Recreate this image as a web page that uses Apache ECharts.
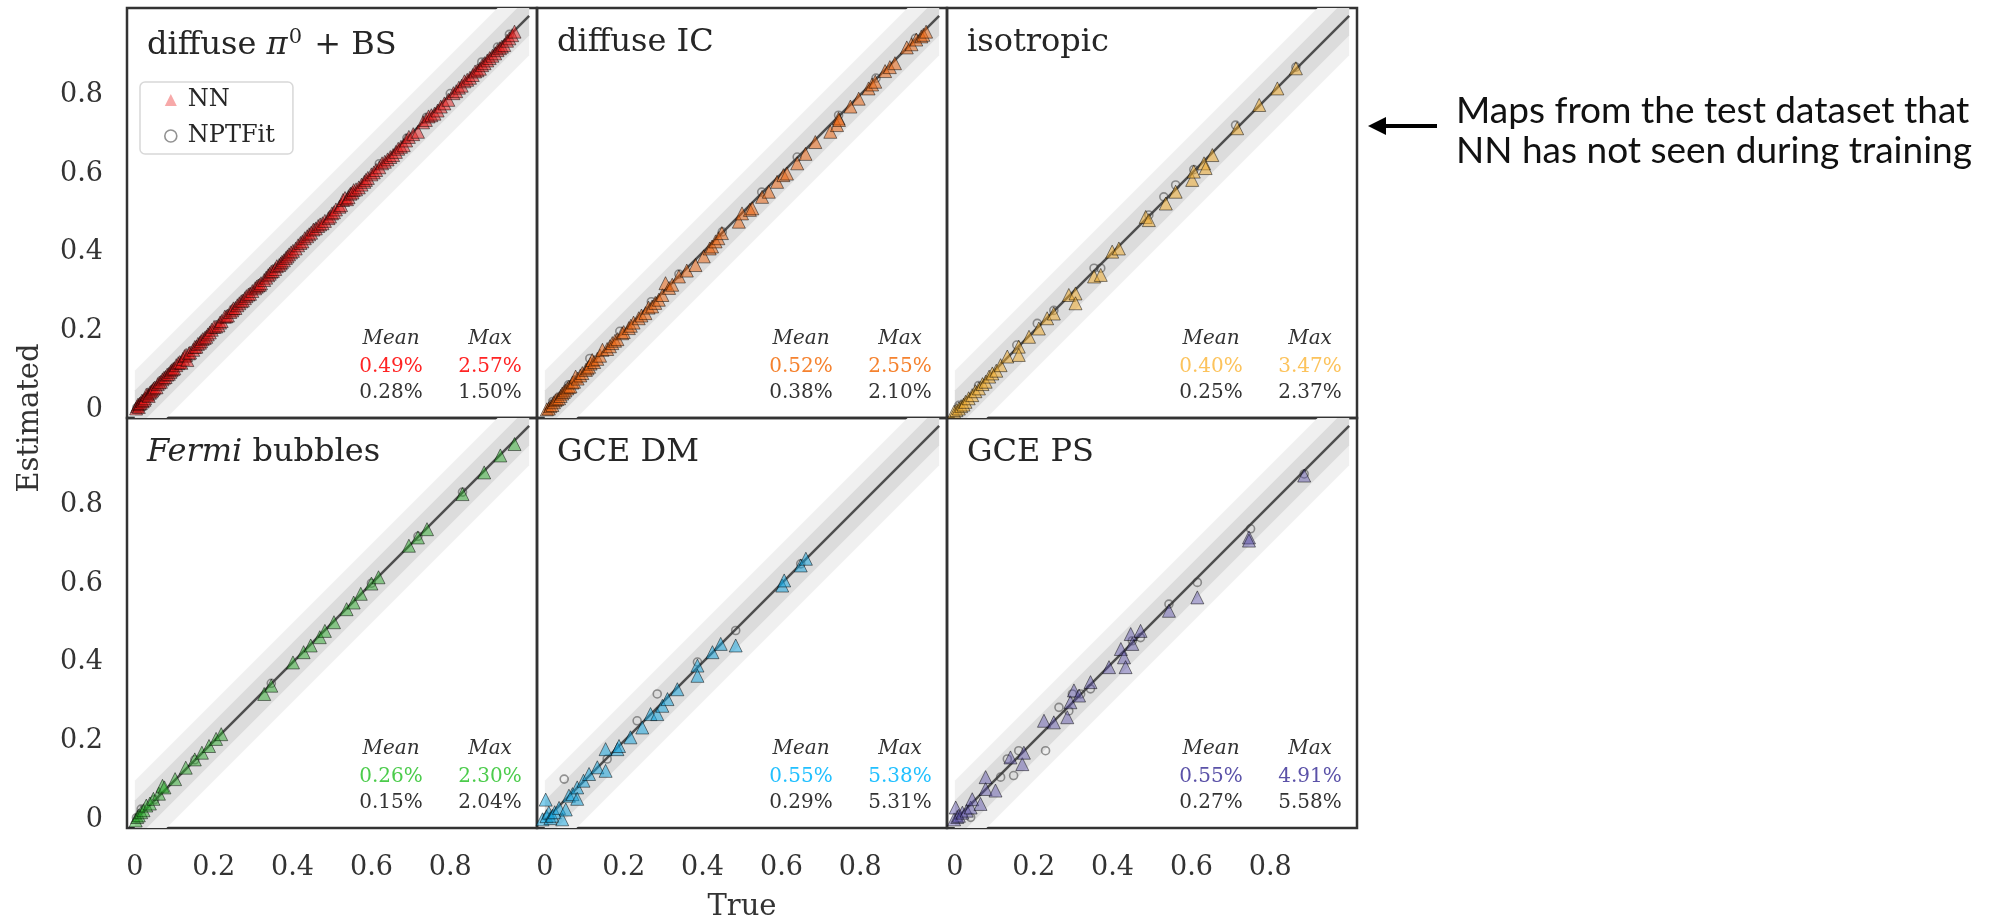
<!DOCTYPE html>
<html>
<head>
<meta charset="utf-8">
<title>NN vs NPTFit flux fractions</title>
<script src="https://cdn.jsdelivr.net/npm/echarts@6/dist/echarts.min.js"></script>
<style>
  html, body { margin: 0; padding: 0; background: #fff; }
  #chart { width: 1994px; height: 922px; }
</style>
</head>
<body>
<div id="chart"></div>
<script>
// ---- data (true, estimated) ----
const pionNN = [
  [0.003, 0.004], [0.006, 0.01], [0.008, 0.014], [0.01, 0.008], [0.012, 0.016], [0.015, 0.018],
  [0.018, 0.024], [0.02, 0.022], [0.024, 0.026], [0.026, 0.03], [0.029, 0.039], [0.033, 0.04],
  [0.035, 0.036], [0.038, 0.044], [0.041, 0.047], [0.044, 0.05], [0.047, 0.054], [0.05, 0.057],
  [0.055, 0.058], [0.058, 0.066], [0.062, 0.07], [0.066, 0.072], [0.07, 0.078], [0.074, 0.082],
  [0.078, 0.084], [0.082, 0.09], [0.086, 0.092], [0.09, 0.097], [0.093, 0.101], [0.097, 0.104],
  [0.1, 0.106], [0.105, 0.114], [0.11, 0.119], [0.114, 0.122], [0.118, 0.12], [0.122, 0.13],
  [0.126, 0.137], [0.13, 0.14], [0.133, 0.127], [0.137, 0.144], [0.14, 0.146], [0.148, 0.153],
  [0.152, 0.16], [0.156, 0.161], [0.16, 0.168], [0.165, 0.171], [0.168, 0.175], [0.172, 0.18],
  [0.177, 0.183], [0.181, 0.186], [0.185, 0.192], [0.19, 0.197], [0.195, 0.204], [0.201, 0.211],
  [0.206, 0.212], [0.212, 0.215], [0.216, 0.222], [0.22, 0.226], [0.228, 0.237], [0.232, 0.238],
  [0.236, 0.24], [0.242, 0.249], [0.247, 0.253], [0.25, 0.258], [0.255, 0.259], [0.26, 0.266],
  [0.265, 0.271], [0.27, 0.276], [0.274, 0.278], [0.279, 0.284], [0.283, 0.289], [0.288, 0.293],
  [0.292, 0.295], [0.298, 0.302], [0.305, 0.309], [0.309, 0.313], [0.313, 0.316], [0.317, 0.318],
  [0.32, 0.322], [0.328, 0.33], [0.333, 0.336], [0.338, 0.342], [0.342, 0.346], [0.346, 0.351],
  [0.35, 0.353], [0.356, 0.358], [0.36, 0.365], [0.366, 0.368], [0.37, 0.372], [0.373, 0.376],
  [0.378, 0.38], [0.383, 0.386], [0.387, 0.39], [0.391, 0.395], [0.396, 0.4], [0.401, 0.404],
  [0.408, 0.41], [0.414, 0.418], [0.42, 0.424], [0.425, 0.428], [0.431, 0.436], [0.437, 0.441],
  [0.442, 0.446], [0.447, 0.45], [0.453, 0.458], [0.459, 0.461], [0.465, 0.467], [0.47, 0.471],
  [0.476, 0.474], [0.482, 0.48], [0.491, 0.487], [0.495, 0.491], [0.5, 0.499], [0.505, 0.502],
  [0.51, 0.509], [0.519, 0.516], [0.523, 0.52], [0.528, 0.533], [0.533, 0.538], [0.538, 0.535],
  [0.542, 0.54], [0.547, 0.549], [0.552, 0.552], [0.555, 0.558], [0.561, 0.56], [0.568, 0.565],
  [0.575, 0.572], [0.582, 0.579], [0.586, 0.584], [0.591, 0.589], [0.6, 0.598], [0.606, 0.603],
  [0.612, 0.609], [0.62, 0.616], [0.627, 0.626], [0.634, 0.63], [0.641, 0.636], [0.648, 0.642],
  [0.655, 0.647], [0.662, 0.655], [0.668, 0.663], [0.675, 0.668], [0.682, 0.672], [0.688, 0.684],
  [0.695, 0.693], [0.706, 0.7], [0.718, 0.706], [0.731, 0.73], [0.738, 0.736], [0.745, 0.745],
  [0.752, 0.748], [0.76, 0.752], [0.768, 0.76], [0.776, 0.77], [0.785, 0.778], [0.795, 0.787],
  [0.808, 0.804], [0.815, 0.809], [0.822, 0.818], [0.829, 0.823], [0.836, 0.834], [0.843, 0.838],
  [0.85, 0.843], [0.857, 0.85], [0.863, 0.859], [0.869, 0.862], [0.875, 0.866], [0.881, 0.875],
  [0.887, 0.88], [0.894, 0.887], [0.9, 0.893], [0.907, 0.899], [0.914, 0.905], [0.92, 0.913],
  [0.926, 0.918], [0.931, 0.922], [0.937, 0.926], [0.944, 0.937], [0.95, 0.943], [0.957, 0.951],
  [0.963, 0.96]
];
const pionNPT = [
  [0.005, 0.006], [0.03, 0.032], [0.1, 0.102], [0.2, 0.202], [0.3, 0.301], [0.36, 0.36],
  [0.46, 0.462], [0.55, 0.551], [0.62, 0.625], [0.69, 0.69], [0.74, 0.743], [0.8, 0.803],
  [0.88, 0.883], [0.92, 0.921], [0.95, 0.953]
];
const icNN = [
  [0.005, 0.002], [0.01, 0.004], [0.014, 0.01], [0.019, 0.013], [0.023, 0.02], [0.027, 0.025],
  [0.031, 0.028], [0.036, 0.03], [0.04, 0.036], [0.044, 0.042], [0.048, 0.046], [0.052, 0.05],
  [0.057, 0.055], [0.061, 0.059], [0.065, 0.06], [0.07, 0.07], [0.074, 0.072], [0.078, 0.085],
  [0.083, 0.08], [0.09, 0.088], [0.095, 0.094], [0.104, 0.102], [0.108, 0.106], [0.112, 0.11],
  [0.116, 0.118], [0.12, 0.127], [0.125, 0.122], [0.133, 0.13], [0.14, 0.138], [0.146, 0.153],
  [0.158, 0.155], [0.165, 0.162], [0.171, 0.17], [0.178, 0.176], [0.184, 0.18], [0.196, 0.195],
  [0.2, 0.198], [0.213, 0.208], [0.218, 0.214], [0.225, 0.222], [0.238, 0.233], [0.245, 0.24],
  [0.255, 0.246], [0.263, 0.26], [0.272, 0.263], [0.28, 0.272], [0.289, 0.28], [0.298, 0.292],
  [0.306, 0.322], [0.315, 0.31], [0.323, 0.318], [0.34, 0.339], [0.36, 0.354], [0.382, 0.368],
  [0.403, 0.39], [0.418, 0.41], [0.424, 0.415], [0.433, 0.428], [0.44, 0.436], [0.449, 0.449],
  [0.492, 0.478], [0.5, 0.499], [0.52, 0.508], [0.526, 0.512], [0.551, 0.541], [0.568, 0.554],
  [0.589, 0.579], [0.605, 0.596], [0.614, 0.6], [0.64, 0.626], [0.661, 0.65], [0.686, 0.68],
  [0.724, 0.706], [0.741, 0.723], [0.745, 0.74], [0.746, 0.736], [0.775, 0.77], [0.796, 0.79],
  [0.821, 0.816], [0.83, 0.826], [0.838, 0.833], [0.863, 0.86], [0.875, 0.87], [0.888, 0.88],
  [0.918, 0.92], [0.93, 0.928], [0.942, 0.94], [0.955, 0.948], [0.96, 0.952], [0.967, 0.96]
];
const icNPT = [
  [0.02, 0.022], [0.06, 0.064], [0.114, 0.131], [0.19, 0.2], [0.27, 0.275], [0.34, 0.345],
  [0.45, 0.452], [0.55, 0.553], [0.64, 0.642], [0.745, 0.748], [0.84, 0.842], [0.94, 0.943]
];
const isoNN = [
  [-0.002, -0.004], [0.004, 0.0], [0.01, 0.004], [0.016, 0.01], [0.022, 0.014], [0.027, 0.021],
  [0.035, 0.03], [0.044, 0.038], [0.052, 0.048], [0.061, 0.055], [0.07, 0.066], [0.078, 0.072],
  [0.087, 0.085], [0.095, 0.093], [0.105, 0.1], [0.116, 0.114], [0.133, 0.136], [0.162, 0.161],
  [0.162, 0.14], [0.188, 0.186], [0.213, 0.207], [0.234, 0.233], [0.251, 0.245], [0.289, 0.292],
  [0.306, 0.296], [0.306, 0.271], [0.353, 0.339], [0.37, 0.343], [0.399, 0.402], [0.416, 0.41],
  [0.484, 0.49], [0.492, 0.482], [0.535, 0.524], [0.56, 0.554], [0.602, 0.584], [0.606, 0.605],
  [0.632, 0.626], [0.636, 0.614], [0.653, 0.647], [0.716, 0.715], [0.772, 0.774], [0.818, 0.816],
  [0.865, 0.867]
];
const isoNPT = [
  [0.01, 0.012], [0.06, 0.062], [0.157, 0.165], [0.209, 0.22], [0.251, 0.253], [0.353, 0.36],
  [0.37, 0.36], [0.492, 0.495], [0.53, 0.541], [0.56, 0.571], [0.606, 0.61], [0.712, 0.723],
  [0.865, 0.87]
];
const fermiNN = [
  [0.002, -0.001], [0.006, 0.008], [0.01, 0.012], [0.016, 0.02], [0.022, 0.025], [0.029, 0.037],
  [0.038, 0.042], [0.047, 0.054], [0.061, 0.067], [0.07, 0.087], [0.075, 0.083], [0.102, 0.104],
  [0.129, 0.133], [0.152, 0.154], [0.17, 0.171], [0.188, 0.188], [0.206, 0.206], [0.219, 0.218],
  [0.328, 0.32], [0.346, 0.341], [0.401, 0.4], [0.428, 0.426], [0.446, 0.443], [0.469, 0.464],
  [0.482, 0.48], [0.505, 0.502], [0.537, 0.535], [0.555, 0.552], [0.573, 0.574], [0.6, 0.6],
  [0.618, 0.616], [0.695, 0.696], [0.718, 0.717], [0.741, 0.738], [0.831, 0.827], [0.886, 0.882],
  [0.927, 0.925], [0.963, 0.954]
];
const fermiNPT = [
  [0.004, 0.006], [0.016, 0.028], [0.05, 0.052], [0.152, 0.153], [0.346, 0.347], [0.6, 0.601],
  [0.718, 0.72], [0.831, 0.832]
];
const dmNN = [
  [-0.006, 0.002], [0.002, 0.052], [0.004, 0.01], [0.01, 0.019], [0.014, 0.005], [0.019, 0.011],
  [0.025, 0.02], [0.036, 0.031], [0.044, 0.002], [0.053, 0.027], [0.061, 0.062], [0.07, 0.066],
  [0.082, 0.083], [0.082, 0.054], [0.098, 0.1], [0.112, 0.117], [0.133, 0.134], [0.154, 0.18],
  [0.154, 0.125], [0.184, 0.18], [0.188, 0.188], [0.217, 0.21], [0.247, 0.235], [0.268, 0.269],
  [0.285, 0.269], [0.298, 0.29], [0.311, 0.307], [0.336, 0.332], [0.387, 0.392], [0.387, 0.366],
  [0.425, 0.426], [0.446, 0.447], [0.484, 0.443], [0.602, 0.595], [0.607, 0.608], [0.649, 0.646],
  [0.662, 0.663]
];
const dmNPT = [
  [0.005, 0.008], [0.049, 0.104], [0.158, 0.155], [0.234, 0.252], [0.285, 0.32], [0.387, 0.401],
  [0.484, 0.481], [0.649, 0.65]
];
const psNN = [
  [-0.002, 0.002], [0.002, 0.032], [0.006, 0.008], [0.01, 0.011], [0.019, 0.019], [0.03, 0.024],
  [0.04, 0.032], [0.044, 0.053], [0.065, 0.041], [0.078, 0.079], [0.078, 0.109], [0.103, 0.075],
  [0.141, 0.159], [0.171, 0.142], [0.175, 0.171], [0.226, 0.252], [0.251, 0.248], [0.285, 0.261],
  [0.293, 0.299], [0.302, 0.329], [0.315, 0.316], [0.344, 0.35], [0.391, 0.388], [0.421, 0.434],
  [0.429, 0.413], [0.433, 0.388], [0.446, 0.472], [0.45, 0.447], [0.471, 0.48], [0.543, 0.531],
  [0.615, 0.565], [0.746, 0.717], [0.746, 0.709], [0.886, 0.874]
];
const psNPT = [
  [0.01, 0.006], [0.04, 0.007], [0.116, 0.109], [0.133, 0.155], [0.149, 0.113], [0.162, 0.176],
  [0.23, 0.176], [0.264, 0.286], [0.289, 0.277], [0.298, 0.32], [0.319, 0.32], [0.344, 0.333],
  [0.45, 0.455], [0.471, 0.463], [0.543, 0.548], [0.615, 0.603], [0.75, 0.739], [0.886, 0.878]
];

const panelTitles = [
  '{a|diffuse }{m|\u03c0}{s|0}{a| + BS}',
  '{a|diffuse IC}',
  '{a|isotropic}',
  '{m|Fermi}{a| bubbles}',
  '{a|GCE DM}',
  '{a|GCE PS}'
];
const nnSets = [pionNN, icNN, isoNN, fermiNN, dmNN, psNN];
const nptSets = [pionNPT, icNPT, isoNPT, fermiNPT, dmNPT, psNPT];
const meanNN = ['0.49%', '0.52%', '0.40%', '0.26%', '0.55%', '0.55%'];
const maxNN = ['2.57%', '2.55%', '3.47%', '2.30%', '5.38%', '4.91%'];
const meanNPT = ['0.28%', '0.38%', '0.25%', '0.15%', '0.29%', '0.27%'];
const maxNPT = ['1.50%', '2.10%', '2.37%', '2.04%', '5.31%', '5.58%'];
const tickValues = [0, 0.2, 0.4, 0.6, 0.8];
const diagLine = [[0, 0], [1, 1]];
const bandHalfWidths = [0.1, 0.05];

// ---- styling ----
const textColors = ['#ff2424', '#f5822f', '#fcc35c', '#4ccc4c', '#22c0ff', '#5b52a8'];
const markerColors = [
  'rgba(232,22,22,0.6)', 'rgba(236,100,15,0.65)', 'rgba(240,170,45,0.65)',
  'rgba(40,170,40,0.6)', 'rgba(22,165,222,0.65)', 'rgba(88,78,168,0.55)'
];
const bandColors = ['#f0f0f0', '#dcdcdc'];
const SERIF = 'DejaVu Serif';
const GRID_W = 410, GRID_H = 410;
const gridLefts = [127, 537, 947];
const gridTops = [8, 418];

const chart = echarts.init(document.getElementById('chart'));

const grids = [], xAxes = [], yAxes = [], series = [], graphics = [];

for (let i = 0; i < 6; i++) {
  const col = i % 3, row = Math.floor(i / 3);
  const left = gridLefts[col], top = gridTops[row];
  grids.push({
    left, top, width: GRID_W, height: GRID_H,
    show: true, borderColor: '#333', borderWidth: 2.5, backgroundColor: 'transparent'
  });
  xAxes.push({
    type: 'value', gridIndex: i, min: -0.02, max: 1.02,
    axisLine: { show: false }, axisTick: { show: false }, splitLine: { show: false },
    axisLabel: {
      show: row === 1, customValues: tickValues, margin: 26,
      fontFamily: SERIF, fontSize: 27, color: '#333'
    }
  });
  yAxes.push({
    type: 'value', gridIndex: i, min: -0.02, max: 1.02,
    axisLine: { show: false }, axisTick: { show: false }, splitLine: { show: false },
    axisLabel: {
      show: col === 0, customValues: tickValues, margin: 24,
      fontFamily: SERIF, fontSize: 27, color: '#333'
    }
  });

  series.push({
    type: 'custom', xAxisIndex: i, yAxisIndex: i, clip: true, silent: true, z: 1,
    data: [[0]],
    renderItem: function (params, api) {
      const children = bandHalfWidths.map(function (d, k) {
        const pts = [
          api.coord([diagLine[0][0], diagLine[0][1] - d]),
          api.coord([diagLine[1][0], diagLine[1][1] - d]),
          api.coord([diagLine[1][0], diagLine[1][1] + d]),
          api.coord([diagLine[0][0], diagLine[0][1] + d])
        ];
        return { type: 'polygon', shape: { points: pts }, style: { fill: bandColors[k] } };
      });
      return { type: 'group', children };
    }
  });
  series.push({
    type: 'line', xAxisIndex: i, yAxisIndex: i, data: diagLine, symbol: 'none', z: 2,
    silent: true, lineStyle: { color: '#4d4d4d', width: 2.5 }
  });
  series.push({
    name: 'NPTFit', type: 'scatter', xAxisIndex: i, yAxisIndex: i, data: nptSets[i], z: 3,
    symbol: 'circle', symbolSize: 8,
    itemStyle: { color: 'rgba(255,255,255,0)', borderColor: 'rgba(60,60,60,0.65)', borderWidth: 1.6 }
  });
  series.push({
    name: 'NN', type: 'scatter', xAxisIndex: i, yAxisIndex: i, data: nnSets[i], z: 4,
    symbol: 'triangle', symbolSize: 13,
    itemStyle: { color: markerColors[i], borderColor: 'rgba(0,0,0,0.6)', borderWidth: 1 }
  });

  // panel title
  graphics.push({
    type: 'text', left: left + 20, top: top + 19, z: 10,
    style: {
      text: panelTitles[i],
      rich: {
        a: { fontFamily: SERIF, fontSize: 32, fill: '#262626' },
        m: { fontFamily: SERIF, fontSize: 32, fontStyle: 'italic', fill: '#262626' },
        s: { fontFamily: SERIF, fontSize: 21, fill: '#262626', padding: [0, 2, 16, 1] }
      }
    }
  });
  // error statistics
  const cols = [left + 264, left + 363];
  const rows = [top + 331, top + 359, top + 385];
  const cells = [
    [['Mean', '#333', 'italic'], ['Max', '#333', 'italic']],
    [[meanNN[i], textColors[i], 'normal'], [maxNN[i], textColors[i], 'normal']],
    [[meanNPT[i], '#333', 'normal'], [maxNPT[i], '#333', 'normal']]
  ];
  cells.forEach(function (r, ri) {
    r.forEach(function (c, ci) {
      graphics.push({
        type: 'text', x: cols[ci], y: rows[ri], z: 10,
        style: {
          text: c[0], fill: c[1], fontStyle: c[2], fontFamily: SERIF, fontSize: 20,
          align: 'center', verticalAlign: 'middle'
        }
      });
    });
  });
}

// axis names
graphics.push({
  type: 'text', x: 30, y: 418, rotation: Math.PI / 2,
  style: { text: 'Estimated', fontFamily: SERIF, fontSize: 29, fill: '#333', align: 'center', verticalAlign: 'middle' }
});
graphics.push({
  type: 'text', x: 742, y: 907,
  style: { text: 'True', fontFamily: SERIF, fontSize: 29, fill: '#333', align: 'center', verticalAlign: 'middle' }
});
// annotation with arrow
graphics.push({
  type: 'line', shape: { x1: 1437, y1: 126, x2: 1380, y2: 126 },
  style: { stroke: '#000', lineWidth: 4 }
});
graphics.push({
  type: 'polygon', shape: { points: [[1368, 126], [1386, 117], [1386, 135]] },
  style: { fill: '#000' }
});
graphics.push({
  type: 'text', x: 1456, y: 131,
  style: {
    text: 'Maps from the test dataset that\nNN has not seen during training',
    fontFamily: 'Lato', fontSize: 37, lineHeight: 40, fill: '#111', verticalAlign: 'middle'
  }
});

chart.setOption({
  backgroundColor: '#fff',
  animation: false,
  grid: grids,
  xAxis: xAxes,
  yAxis: yAxes,
  legend: {
    data: [
      { name: 'NN', itemStyle: { color: 'rgba(240,90,90,0.65)', borderWidth: 0 } },
      { name: 'NPTFit', itemStyle: { color: '#fff', borderColor: '#777', borderWidth: 1.6 } }
    ],
    orient: 'vertical', left: 140, top: 82,
    itemWidth: 12, itemHeight: 12, itemGap: 12,
    padding: [6, 18, 6, 24],
    backgroundColor: 'rgba(255,255,255,0.85)', borderColor: '#d8d8d8', borderWidth: 1.5, borderRadius: 5,
    textStyle: { fontFamily: SERIF, fontSize: 24, color: '#262626', padding: [0, 0, 0, 6] },
    selectedMode: false
  },
  series,
  graphic: graphics
});
</script>
</body>
</html>
